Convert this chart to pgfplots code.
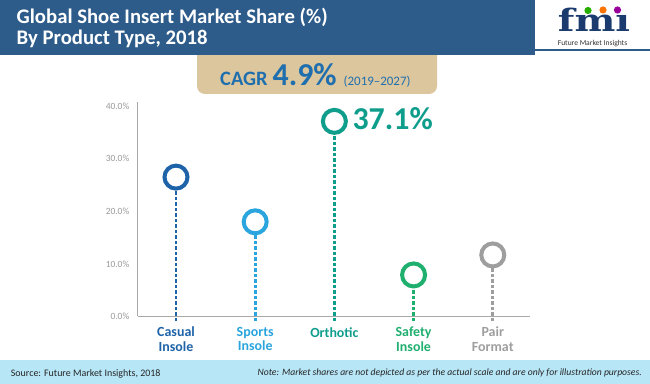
\documentclass[border=0pt]{standalone}
\usepackage{pgfplots}
\pgfplotsset{compat=1.18}
\usepackage{fontspec}
\setmainfont{Carlito}
\newfontfamily\logofont{DejaVu Serif}
\definecolor{hdr}{HTML}{2D5C8A}
\definecolor{tanbox}{HTML}{DCC69E}
\definecolor{cagr}{HTML}{1F6FAE}
\definecolor{c1}{HTML}{1E63A8}
\definecolor{c2}{HTML}{2AA5DD}
\definecolor{c3}{HTML}{0F9D8C}
\definecolor{c4}{HTML}{1FAF6F}
\definecolor{c5}{HTML}{9E9E9E}
\definecolor{foot}{HTML}{B7E6F6}
\definecolor{navy}{HTML}{1B3B6F}
\definecolor{axgray}{HTML}{A8A8A8}
\definecolor{tkgray}{HTML}{9A9A9A}
\begin{document}
\begin{tikzpicture}
\path[use as bounding box] (0,0) rectangle (650bp,384bp);
\fill[white] (0,0) rectangle (650bp,384bp);
% CAGR box
\fill[tanbox, rounded corners=8bp] (197bp,345bp) rectangle (437bp,290bp);
% header
\fill[hdr] (0,329bp) rectangle (535bp,384bp);
\fill[hdr] (535bp,333bp) rectangle (650bp,335bp);
\node[anchor=base west, inner sep=0, text=white, font=\fontsize{20.8}{21}\selectfont\bfseries] at (16.5bp,360bp) {Global Shoe Insert Market Share (\%)};
\node[anchor=base west, inner sep=0, text=white, font=\fontsize{20.8}{21}\selectfont\bfseries] at (16.5bp,339bp) {By Product Type, 2018};
% logo
\node[anchor=base, inner sep=0, text=navy] at (594bp,352bp) {\scalebox{1.25}[1]{\logofont\bfseries\fontsize{31}{31}\selectfont fmı}};
\fill[green!60!black!80!lime] (588bp,373.5bp) circle (3.6bp);
\fill[orange!90!red] (603bp,374bp) circle (3.6bp);
\fill[violet!80!magenta] (617.5bp,374bp) circle (3.6bp);
\node[anchor=base, inner sep=0, text=black!80] at (592.5bp,338.5bp) {\fontsize{7.6}{8}\selectfont Future Market Insights};
% CAGR text
\node[anchor=base west, inner sep=0, text=cagr] at (220bp,298.3bp) {{\fontsize{20.5}{20}\selectfont\bfseries CAGR}\hspace{5bp}{\fontsize{32}{33}\selectfont\bfseries 4.9\%}\hspace{7bp}{\fontsize{13}{13}\selectfont (2019--2027)}};
% footer
\fill[foot] (0,0) rectangle (650bp,24bp);
\node[anchor=base west, inner sep=0, text=black!85] at (10.7bp,7.3bp) {\fontsize{10}{10}\selectfont Source: Future Market Insights, 2018};
\node[anchor=base east, inner sep=0, text=black!85] at (642bp,8.5bp) {\fontsize{9.7}{10}\selectfont\itshape Note: Market shares are not depicted as per the actual scale and are only for illustration purposes.};
\begin{axis}[
  at={(137.5bp,67.5bp)}, anchor=south west,
  scale only axis, width=392.5bp, height=214.6bp,
  xmin=-0.486, xmax=4.47, ymin=0, ymax=40.8,
  axis x line*=bottom, axis y line*=left,
  axis line style={draw=axgray, line width=0.8bp},
  clip=false,
  /pgf/number format/assume math mode=true,
  xtick={0,1,2,3,4},
  xticklabels={
    {\textcolor{c1}{Casual}\\\textcolor{c1}{Insole}},
    {\textcolor{c2}{Sports}\\\textcolor{c2}{Insole}},
    {\textcolor{c3}{Orthotic}},
    {\textcolor{c4}{Safety}\\\textcolor{c4}{Insole}},
    {\textcolor{c5}{Pair}\\\textcolor{c5}{Format}}},
  xticklabel style={font=\fontsize{14}{14.5}\selectfont\bfseries, align=center, anchor=north, inner sep=0pt, yshift=-10.5bp},
  ytick={0,10,20,30,40},
  yticklabels={0.0\%,10.0\%,20.0\%,30.0\%,40.0\%},
  yticklabel style={font=\fontsize{9.5}{10}\selectfont, text=tkgray, anchor=east, inner sep=0pt, xshift=-8bp},
  major tick length=0pt,
  tick style={draw=none},
]
% stems
\addplot[draw=c1, line width=2.8bp, dash pattern=on 3.5bp off 2bp] coordinates {(0,-0.9) (0,26.5)};
\addplot[draw=c2, line width=2.8bp, dash pattern=on 3.5bp off 2bp] coordinates {(1,-0.9) (1,18.0)};
\addplot[draw=c3, line width=2.8bp, dash pattern=on 3.5bp off 2bp] coordinates {(2,-0.9) (2,37.1)};
\addplot[draw=c4, line width=2.8bp, dash pattern=on 3.5bp off 2bp] coordinates {(3,-0.9) (3,7.9)};
\addplot[draw=c5, line width=2.8bp, dash pattern=on 3.5bp off 2bp] coordinates {(4,-0.9) (4,11.7)};
% rings
\addplot[only marks, mark=*, mark size=11.5bp, mark options={solid, fill=white, draw=c1, line width=4bp}] coordinates {(0,26.5)};
\addplot[only marks, mark=*, mark size=11.5bp, mark options={solid, fill=white, draw=c2, line width=4bp}] coordinates {(1,18.0)};
\addplot[only marks, mark=*, mark size=11.5bp, mark options={solid, fill=white, draw=c3, line width=4bp}] coordinates {(2,37.1)};
\addplot[only marks, mark=*, mark size=11.5bp, mark options={solid, fill=white, draw=c4, line width=4bp}] coordinates {(3,7.9)};
\addplot[only marks, mark=*, mark size=11.5bp, mark options={solid, fill=white, draw=c5, line width=4bp}] coordinates {(4,11.7)};
\node[anchor=base west, inner sep=0, text=c3, font=\fontsize{32}{32}\selectfont\bfseries, xshift=18bp, yshift=-7.7bp] at (axis cs:2,37.1) {37.1\%};
\end{axis}
\end{tikzpicture}
\end{document}
